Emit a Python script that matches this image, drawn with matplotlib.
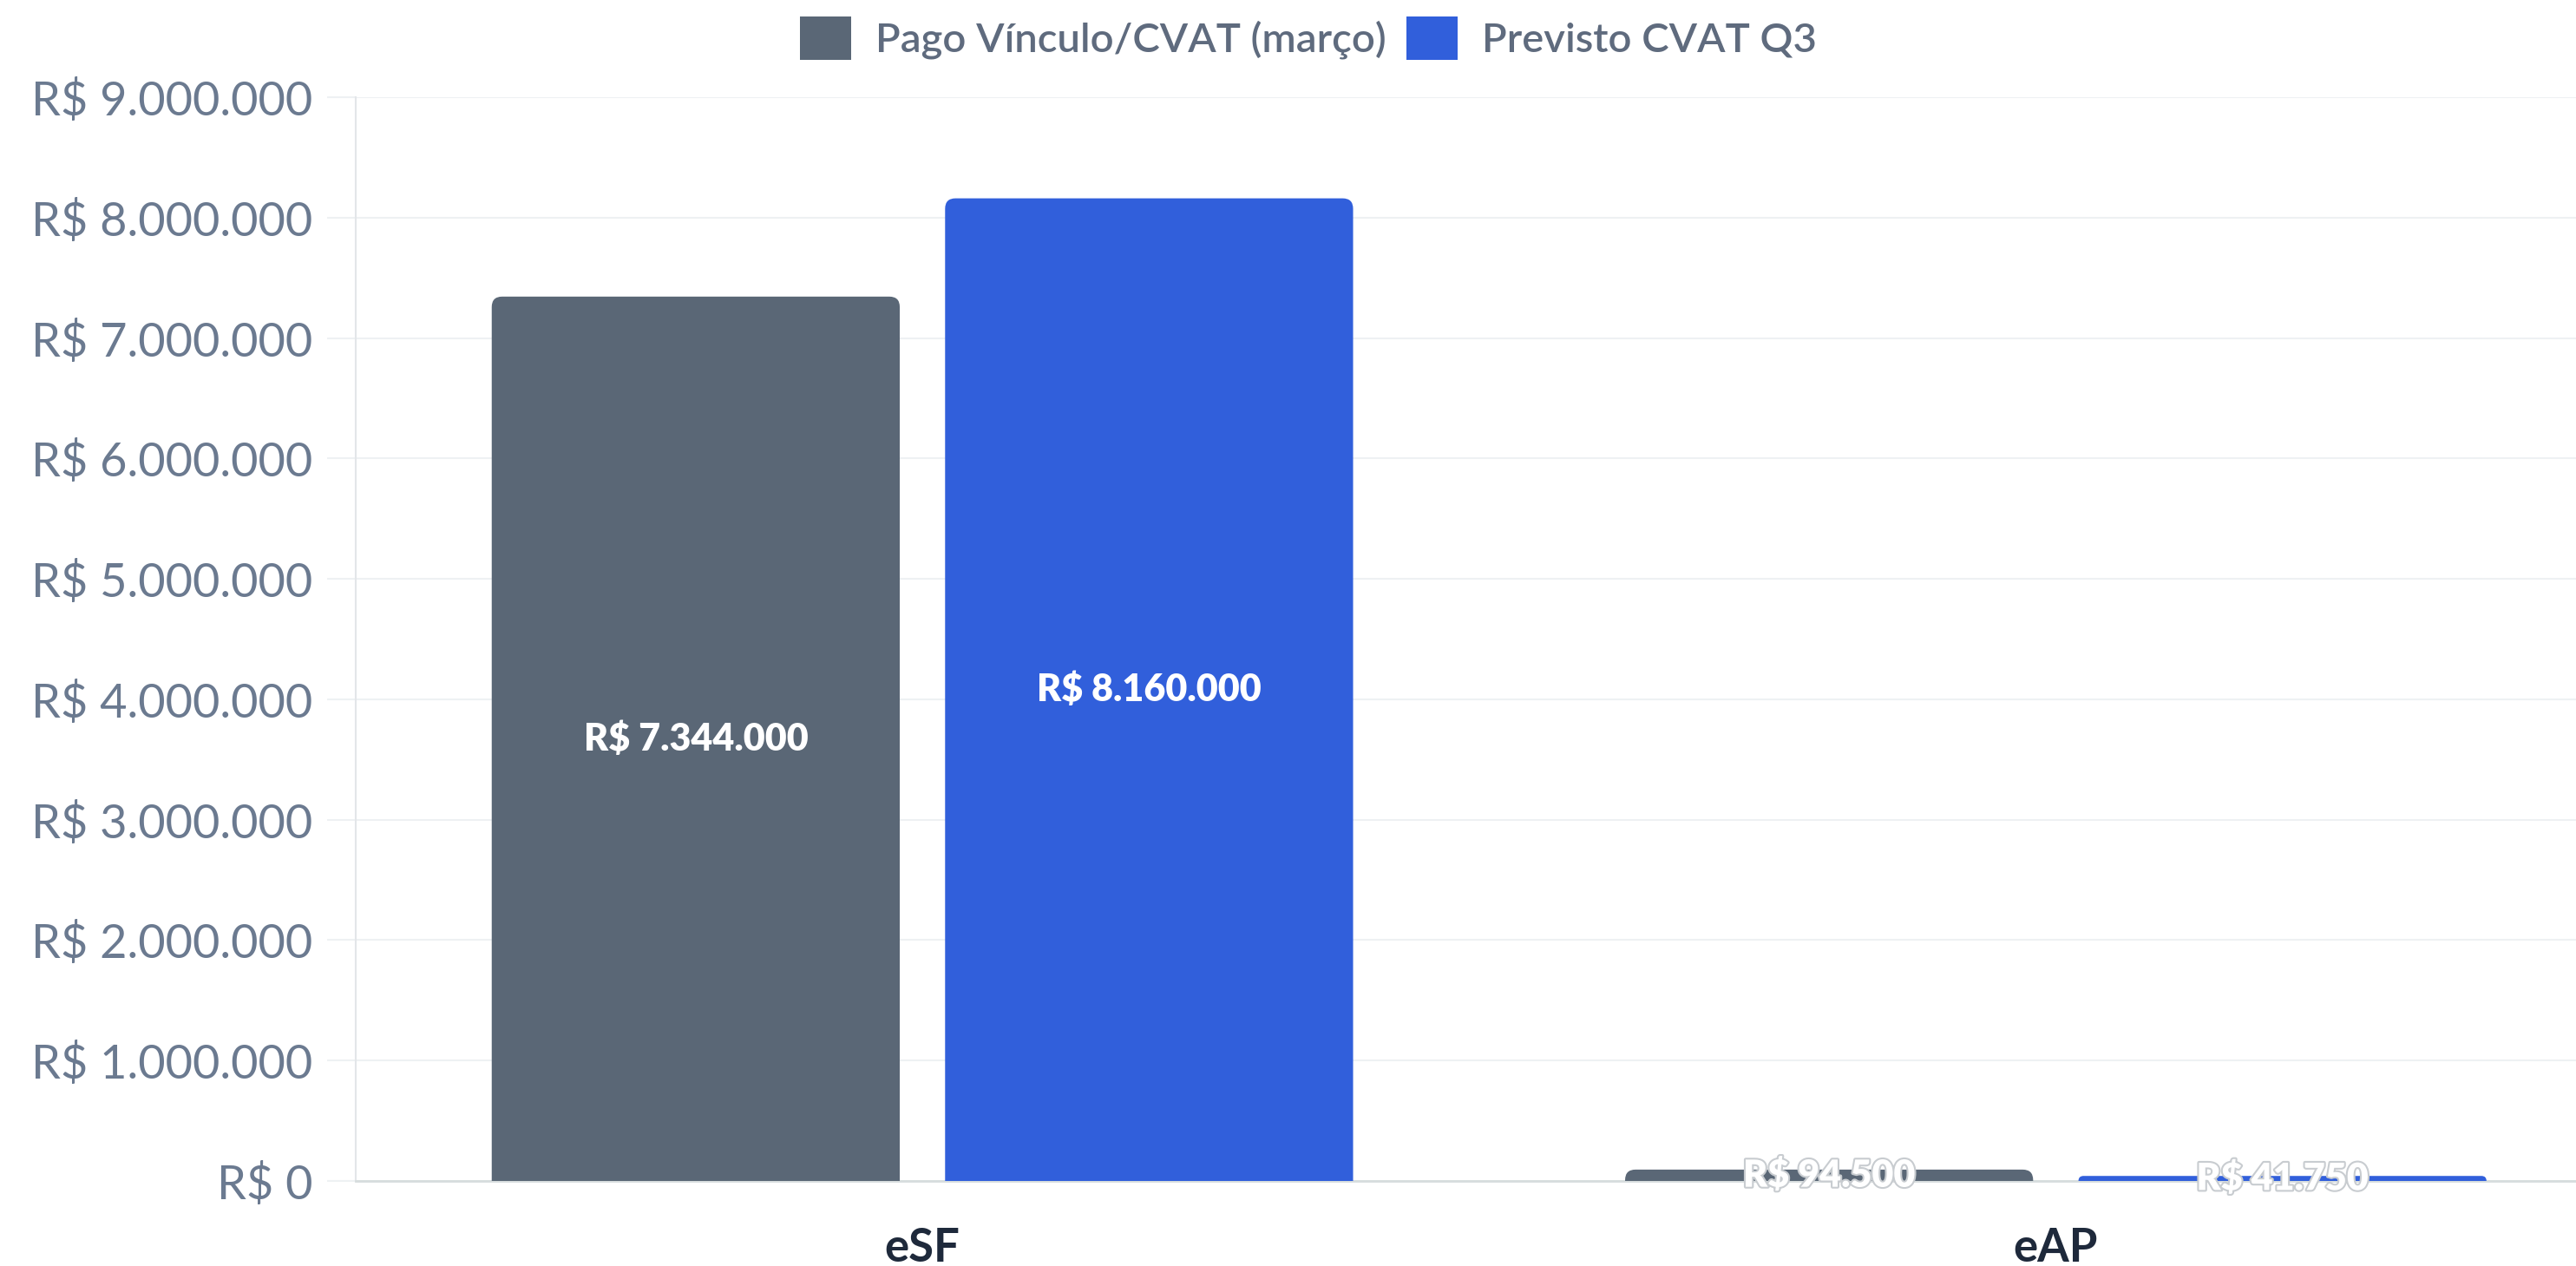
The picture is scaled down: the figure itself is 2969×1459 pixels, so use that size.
import matplotlib.pyplot as plt
import matplotlib.patheffects as pe
from matplotlib.patches import FancyBboxPatch, Rectangle
import numpy as np

# data
categories = ["eSF", "eAP"]
series_names = ["Pago Vínculo/CVAT (março)", "Previsto CVAT Q3"]
pago = [7344000, 94500]
previsto = [8160000, 41750]
y_ticks = [0, 1000000, 2000000, 3000000, 4000000, 5000000, 6000000, 7000000, 8000000, 9000000]

colors = ["#5A6776", "#315FDB"]
tick_color = "#6B7A90"
grid_color = "#EEF1F3"


def brl(v):
    return "R$ " + f"{v:,.0f}".replace(",", ".")


plt.rcParams['font.family'] = ['Lato', 'DejaVu Sans']

W, H = 2969, 1459
fig = plt.figure(figsize=(W / 100, H / 100), dpi=100)
ax = fig.add_axes([410 / W, 1 - 1361 / H, (W - 410) / W, (1361 - 112) / H])

x = np.arange(len(categories))
bw = 0.36
off = 0.2
ax.set_xlim(-0.5, 1.459)
ax.set_ylim(0, 9000000)

# units per pixel
dx = (1.459 + 0.5) / (W - 410)
dy = 9000000 / (1361 - 112)

for vals, col, sign in [(pago, colors[0], -1), (previsto, colors[1], 1)]:
    bars = ax.bar(x + sign * off, vals, bw, color=col)
    for b, v in zip(bars, vals):
        b.set_visible(False)
        hpx = v / dy
        r = min(12, hpx)
        rx = r * dx
        ry = r * dy
        p = FancyBboxPatch((b.get_x(), -ry), b.get_width(), v + ry,
                           boxstyle=f"round,pad=0,rounding_size={rx}",
                           mutation_aspect=dy / dx, fc=col, ec="none",
                           lw=0, clip_on=True, zorder=3)
        ax.add_patch(p)
        t = ax.text(b.get_x() + b.get_width() / 2, v / 2, brl(v),
                    ha="center", va="center", color="white",
                    fontsize=31, fontweight="heavy", zorder=5)
        if hpx < 60:
            t.set_path_effects([pe.withStroke(linewidth=3, foreground="#C8CCD0")])

ax.set_yticks(y_ticks)
ax.set_yticklabels([brl(v) for v in y_ticks])
ax.set_xticks(x)
ax.set_xticklabels(categories, fontsize=38, fontweight="bold", color="#1E293B")

ax.tick_params(axis="y", length=24, width=1.5, color=grid_color, pad=12,
               labelsize=39, labelcolor=tick_color)
ax.tick_params(axis="x", length=0, pad=38)

ax.grid(axis="y", color=grid_color, lw=1.5, zorder=0)
ax.set_axisbelow(True)
for s in ["top", "right"]:
    ax.spines[s].set_visible(False)
ax.spines["left"].set_color("#E3E6E9")
ax.spines["left"].set_linewidth(1.5)
ax.spines["bottom"].set_color("#D6DCDD")
ax.spines["bottom"].set_linewidth(2)

handles = [Rectangle((0, 0), 1, 1, fc=c, ec="none") for c in colors]
fig.legend(handles, series_names, loc="center", bbox_to_anchor=(1508 / W, 1 - 44 / H),
           ncol=2, frameon=False, handlelength=1.24, handleheight=1.23,
           handletextpad=0.6, columnspacing=0.5, labelcolor="#5F6B7E",
           prop={"weight": 600, "size": 34})

fig.savefig("out.png", dpi=100)
